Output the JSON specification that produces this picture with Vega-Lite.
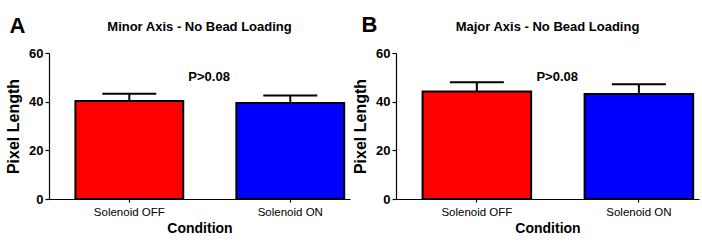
{
  "$schema": "https://vega.github.io/schema/vega-lite/v6.json",
  "padding": {"left": 5, "right": 2, "top": 14, "bottom": 2},
  "spacing": 2,
  "config": {
    "font": "Liberation Sans",
    "view": {"stroke": null},
    "title": {"fontSize": 13, "fontWeight": "bold", "color": "black", "offset": 13},
    "axis": {"domainColor": "black", "tickColor": "black", "labelColor": "black", "titleColor": "black", "grid": false, "domainWidth": 1.2, "tickWidth": 1.2}
  },
  "datasets": {
    "minor": [
      {"condition": "Solenoid OFF", "mean": 40.3, "hi": 43.3},
      {"condition": "Solenoid ON", "mean": 39.5, "hi": 42.5}
    ],
    "major": [
      {"condition": "Solenoid OFF", "mean": 44.2, "hi": 48.0},
      {"condition": "Solenoid ON", "mean": 43.1, "hi": 47.2}
    ],
    "ptext": [{"label": "P>0.08", "pos": 0.532, "y": 50}]
  },
  "hconcat": [
    {
      "title": {"text": "A", "anchor": "start", "fontSize": 22, "frame": "bounds", "offset": -16, "dx": 4, "dy": 1},
      "vconcat": [
        {
          "title": {"text": "Minor Axis - No Bead Loading"},
          "width": 301,
          "height": 146,
          "layer": [
            {
              "data": {"name": "minor"},
              "encoding": {
                "x": {"field": "condition", "type": "nominal", "title": "Condition",
                  "scale": {"paddingInner": 0.33, "paddingOuter": 0.1, "align": 0.82},
                  "axis": {"labelAngle": 0, "labelFontSize": 11.5, "labelPadding": 4, "tickSize": 3, "titleFontSize": 14, "titleFontWeight": "bold", "titlePadding": 4}}
              },
              "layer": [
                {
                  "mark": {"type": "bar", "stroke": "black", "strokeWidth": 2},
                  "encoding": {
                    "y": {"field": "mean", "type": "quantitative", "title": "Pixel Length",
                      "scale": {"domain": [0, 60], "nice": false},
                      "axis": {"values": [0, 20, 40, 60], "labelFontSize": 13, "labelFontWeight": "bold", "tickSize": 4, "titleFontSize": 16, "titleFontWeight": "bold", "titlePadding": 7}},
                    "color": {"field": "condition", "type": "nominal", "scale": {"range": ["#FF0000", "#0000FF"]}, "legend": null}
                  }
                },
                {
                  "mark": {"type": "rule", "color": "black", "strokeWidth": 2},
                  "encoding": {
                    "y": {"field": "mean", "type": "quantitative"},
                    "y2": {"field": "hi"}
                  }
                },
                {
                  "mark": {"type": "tick", "color": "black", "thickness": 2, "size": 54, "opacity": 1},
                  "encoding": {
                    "y": {"field": "hi", "type": "quantitative"}
                  }
                }
              ]
            },
            {
              "data": {"name": "ptext"},
              "mark": {"type": "text", "fontSize": 13, "fontWeight": "bold", "color": "black"},
              "encoding": {
                "x": {"field": "pos", "type": "quantitative", "scale": {"domain": [0, 1]}, "axis": null},
                "y": {"field": "y", "type": "quantitative"},
                "text": {"field": "label"}
              }
            }
          ],
          "resolve": {"scale": {"x": "independent"}, "axis": {"x": "independent"}}
        }
      ]
    },
    {
      "title": {"text": "B", "anchor": "start", "fontSize": 22, "frame": "bounds", "offset": -16, "dx": 9, "dy": 0},
      "vconcat": [
        {
          "title": {"text": "Major Axis - No Bead Loading"},
          "width": 303,
          "height": 146,
          "layer": [
            {
              "data": {"name": "major"},
              "encoding": {
                "x": {"field": "condition", "type": "nominal", "title": "Condition",
                  "scale": {"paddingInner": 0.33, "paddingOuter": 0.1, "align": 0.82},
                  "axis": {"labelAngle": 0, "labelFontSize": 11.5, "labelPadding": 4, "tickSize": 3, "titleFontSize": 14, "titleFontWeight": "bold", "titlePadding": 4}}
              },
              "layer": [
                {
                  "mark": {"type": "bar", "stroke": "black", "strokeWidth": 2},
                  "encoding": {
                    "y": {"field": "mean", "type": "quantitative", "title": "Pixel Length",
                      "scale": {"domain": [0, 60], "nice": false},
                      "axis": {"values": [0, 20, 40, 60], "labelFontSize": 13, "labelFontWeight": "bold", "tickSize": 4, "titleFontSize": 16, "titleFontWeight": "bold", "titlePadding": 7}},
                    "color": {"field": "condition", "type": "nominal", "scale": {"range": ["#FF0000", "#0000FF"]}, "legend": null}
                  }
                },
                {
                  "mark": {"type": "rule", "color": "black", "strokeWidth": 2},
                  "encoding": {
                    "y": {"field": "mean", "type": "quantitative"},
                    "y2": {"field": "hi"}
                  }
                },
                {
                  "mark": {"type": "tick", "color": "black", "thickness": 2, "size": 54, "opacity": 1},
                  "encoding": {
                    "y": {"field": "hi", "type": "quantitative"}
                  }
                }
              ]
            },
            {
              "data": {"name": "ptext"},
              "mark": {"type": "text", "fontSize": 13, "fontWeight": "bold", "color": "black"},
              "encoding": {
                "x": {"field": "pos", "type": "quantitative", "scale": {"domain": [0, 1]}, "axis": null},
                "y": {"field": "y", "type": "quantitative"},
                "text": {"field": "label"}
              }
            }
          ],
          "resolve": {"scale": {"x": "independent"}, "axis": {"x": "independent"}}
        }
      ]
    }
  ]
}
